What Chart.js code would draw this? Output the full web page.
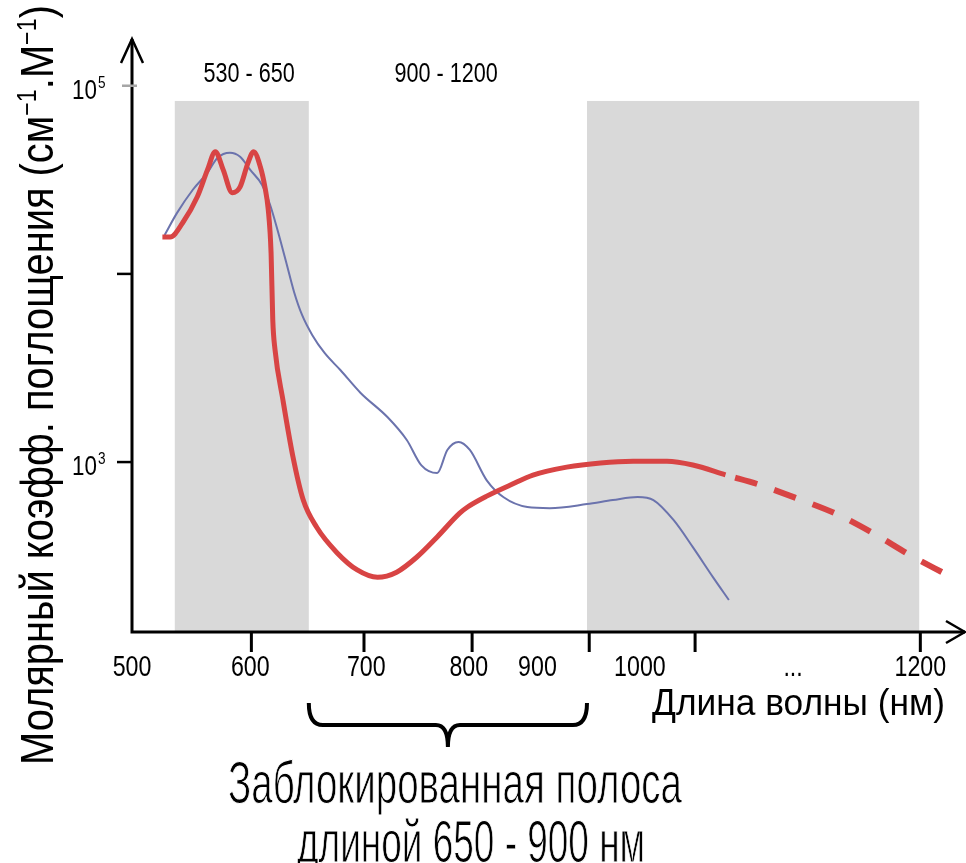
<!DOCTYPE html>
<html lang="ru">
<head>
<meta charset="utf-8">
<title>Молярный коэффициент поглощения</title>
<script src="https://cdn.jsdelivr.net/npm/chart.js@4/dist/chart.umd.min.js"></script>
<style>
  html, body { margin: 0; padding: 0; background: #fff; }
  #chart { display: block; }
</style>
</head>
<body>
<canvas id="chart" width="966" height="863"></canvas>
<script>
// красная кривая: длина волны (нм) и коэффициент; с индекса redDashFrom - пунктир
const redNm = [527, 534, 545, 558, 567, 574, 581, 589, 596, 603, 608, 614, 618, 621, 623.5, 625, 627, 634, 643, 652,
  664, 682, 700, 718, 735, 753, 771, 791, 798, 815, 836, 856, 886, 916, 945, 975, 998, 1027,
  1058, 1092, 1126, 1158, 1191, 1223];
const redVal = [15700, 15700, 18700, 25700, 35700, 44600, 35700, 27000, 29000, 38900, 44600, 37000, 29000, 21900, 12900, 5700, 3950, 2140, 1060, 630,
  450, 330, 267, 244, 260, 313, 400, 535, 577, 659, 755, 853, 940, 990, 1010, 1010, 965, 855,
  755, 636, 528, 419, 320, 253];
const redDashFrom = 37;

// синяя кривая
const blueNm = [529, 540, 554, 567, 576, 587, 596, 605, 615.5, 622.6, 629.7, 636.8, 643.9, 651, 660, 671, 685, 703, 727, 744, 757,
  771, 780, 790, 800, 815, 830, 851, 871, 904, 927, 949, 963, 981, 998, 1016, 1030];
const blueVal = [16100, 21100, 28000, 34500, 41400, 44000, 41900, 35700, 29700, 23300, 16700, 11600, 8020, 6050, 4740, 3800, 3085, 2330, 1730, 1310, 960,
  874, 1160, 1280, 1160, 800, 650, 577, 569, 598, 628, 652, 628, 491, 353, 244, 185];

// серые полосы и подписи к ним
const bands = [[538, 657], [904, 1199]];
const bandTop = 83000;
const bandLabels = ['530 - 650', '900 - 1200'];
const bandLabelNm = [604, 779];

// ось X: штрихи и подписи
const xTickMarks = [606, 706, 802, 906, 1000, 1200];
const xTickLabels = ['500', '600', '700', '800', '900', '1000', '...', '1200'];
const xTickLabelNm = [500, 605, 708, 799, 860, 951, 1087, 1200];

// ось Y (логарифмическая)
const yTicks = [1e5, 1e4, 1e3];
const yTickExp = ['5', '', '3'];

const FONT = '"Liberation Sans", Arial, sans-serif';

// текст, сжатый по ширине; thin - белая обводка, чтобы штрихи выглядели тоньше
function drawText(ctx, text, x, y, size, opts) {
  ctx.save();
  ctx.font = size + 'px ' + FONT;
  const w = ctx.measureText(text).width;
  const sx = opts.width ? opts.width / w : (opts.sx || 1);
  ctx.translate(x, y);
  ctx.scale(sx, 1);
  ctx.textAlign = opts.align || 'center';
  ctx.textBaseline = 'alphabetic';
  ctx.fillStyle = opts.color || '#000';
  ctx.fillText(text, 0, 0);
  if (opts.thin) {
    ctx.strokeStyle = '#fff';
    ctx.lineWidth = opts.thin;
    ctx.strokeText(text, 0, 0);
  }
  ctx.restore();
}

const yTitleParts = [
  ['Молярный коэфф. поглощения (см', false],
  ['\u22121', true],
  ['.М', false],
  ['\u22121', true],
  [')', false],
];

function drawYTitle(ctx) {
  const size = 46, supSize = 27;
  const widths = yTitleParts.map(([t, sup]) => {
    ctx.font = (sup ? supSize : size) + 'px ' + FONT;
    return ctx.measureText(t).width;
  });
  const total = widths.reduce((a, b) => a + b, 0);
  ctx.save();
  ctx.translate(53, 385);
  ctx.rotate(-Math.PI / 2);
  ctx.scale(760 / total, 1);
  ctx.fillStyle = '#000';
  ctx.textBaseline = 'alphabetic';
  ctx.textAlign = 'left';
  let x = -total / 2;
  yTitleParts.forEach(([t, sup], i) => {
    ctx.font = (sup ? supSize : size) + 'px ' + FONT;
    ctx.fillText(t, x, sup ? -17 : 0);
    x += widths[i];
  });
  ctx.restore();
}

const bandsPlugin = {
  id: 'bands',
  beforeDatasetsDraw(chart) {
    const { ctx, chartArea, scales: { x, y } } = chart;
    ctx.save();
    ctx.fillStyle = '#d9d9d9';
    const top = y.getPixelForValue(bandTop);
    bands.forEach(([a, b]) => {
      const x0 = x.getPixelForValue(a), x1 = x.getPixelForValue(b);
      ctx.fillRect(x0, top, x1 - x0, chartArea.bottom - top - 1);
    });
    ctx.restore();
  }
};

const axesPlugin = {
  id: 'axes',
  afterDraw(chart) {
    const { ctx, chartArea, scales: { x, y } } = chart;
    const left = chartArea.left, bottom = chartArea.bottom, top = chartArea.top;
    const xEnd = chart.width - 1;

    ctx.save();
    ctx.strokeStyle = '#000';
    ctx.lineWidth = 3;

    // оси
    ctx.beginPath();
    ctx.moveTo(left, top - 1);
    ctx.lineTo(left, bottom + 1.5);
    ctx.moveTo(left - 1.5, bottom);
    ctx.lineTo(xEnd, bottom);
    ctx.stroke();

    // стрелки
    ctx.lineWidth = 2.5;
    ctx.beginPath();
    ctx.moveTo(left - 11, top + 23);
    ctx.lineTo(left, top - 1);
    ctx.lineTo(left + 11, top + 23);
    ctx.moveTo(xEnd - 19, bottom - 11);
    ctx.lineTo(xEnd, bottom);
    ctx.lineTo(xEnd - 19, bottom + 11);
    ctx.stroke();

    // штрихи оси X
    ctx.lineWidth = 3;
    ctx.beginPath();
    xTickMarks.forEach(v => {
      const px = x.getPixelForValue(v);
      ctx.moveTo(px, bottom);
      ctx.lineTo(px, bottom + 20);
    });
    ctx.stroke();

    xTickLabels.forEach((t, i) => {
      drawText(ctx, t, x.getPixelForValue(xTickLabelNm[i]), bottom + 44, 29, { sx: 0.8 });
    });

    // штрихи и подписи оси Y
    yTicks.forEach((v, i) => {
      const py = y.getPixelForValue(v);
      ctx.beginPath();
      if (yTickExp[i] === '5') {
        ctx.strokeStyle = '#a6a6a6';
        ctx.moveTo(left - 10, py);
        ctx.lineTo(left + 5, py);
      } else {
        ctx.strokeStyle = '#000';
        ctx.moveTo(left - 15, py);
        ctx.lineTo(left, py);
      }
      ctx.lineWidth = 2.5;
      ctx.stroke();
      if (yTickExp[i]) {
        drawText(ctx, '10', left - 35, py + 13, 28, { sx: 0.8, align: 'right' });
        drawText(ctx, yTickExp[i], left - 34, py + 2, 17, { sx: 0.8, align: 'left' });
      }
    });

    // подписи полос
    const labelY = y.getPixelForValue(bandTop) - 19;
    bandLabels.forEach((t, i) => {
      drawText(ctx, t, x.getPixelForValue(bandLabelNm[i]), labelY, 27, { sx: 0.8 });
    });

    // фигурная скобка под заблокированной полосой
    const xL = x.getPixelForValue(bands[0][1]);
    const xR = x.getPixelForValue(bands[1][0]);
    const cx = (xL + xR) / 2;
    const bTop = bottom + 71, bMid = bottom + 93, bTip = bottom + 115;
    ctx.strokeStyle = '#000';
    ctx.lineWidth = 4;
    ctx.beginPath();
    ctx.moveTo(xL, bTop);
    ctx.quadraticCurveTo(xL, bMid, xL + 14, bMid);
    ctx.lineTo(cx - 12, bMid);
    ctx.quadraticCurveTo(cx, bMid, cx, bTip);
    ctx.moveTo(xR, bTop);
    ctx.quadraticCurveTo(xR, bMid, xR - 14, bMid);
    ctx.lineTo(cx + 12, bMid);
    ctx.quadraticCurveTo(cx, bMid, cx, bTip);
    ctx.stroke();

    // названия осей и пояснение
    drawText(ctx, 'Длина волны (нм)', 945, 715, 36, { width: 293, align: 'right' });
    drawText(ctx, 'Заблокированная полоса', 455, 803, 60, { width: 454, thin: 1.0 });
    drawText(ctx, 'длиной 650 - 900 нм', 471, 862, 59, { width: 348, thin: 1.0 });
    drawYTitle(ctx);

    ctx.restore();
  }
};

const toPoints = (xs, ys) => xs.map((v, i) => ({ x: v, y: ys[i] }));

new Chart(document.getElementById('chart'), {
  type: 'line',
  data: {
    datasets: [
      {
        data: toPoints(redNm, redVal),
        borderColor: '#d84444',
        borderWidth: 5,
        pointRadius: 0,
        cubicInterpolationMode: 'monotone',
        order: 0,
        segment: {
          borderDash: c => c.p0DataIndex >= redDashFrom ? [23, 18] : undefined,
          borderDashOffset: c => c.p0DataIndex >= redDashFrom ? 31 : undefined,
          borderWidth: c => c.p0DataIndex >= redDashFrom ? 6 : undefined,
        },
      },
      {
        data: toPoints(blueNm, blueVal),
        borderColor: '#6b73ad',
        borderWidth: 2,
        pointRadius: 0,
        cubicInterpolationMode: 'monotone',
        order: 1,
      },
    ]
  },
  options: {
    responsive: false,
    animation: false,
    layout: { padding: { left: 132, right: 4, top: 40, bottom: 231 } },
    plugins: {
      legend: { display: false },
      tooltip: { enabled: false },
    },
    scales: {
      x: { type: 'linear', min: 500, max: 1237, bounds: 'data', display: false },
      y: { type: 'logarithmic', min: 125, max: 175000, bounds: 'data', display: false },
    }
  },
  plugins: [bandsPlugin, axesPlugin]
});
</script>
</body>
</html>
